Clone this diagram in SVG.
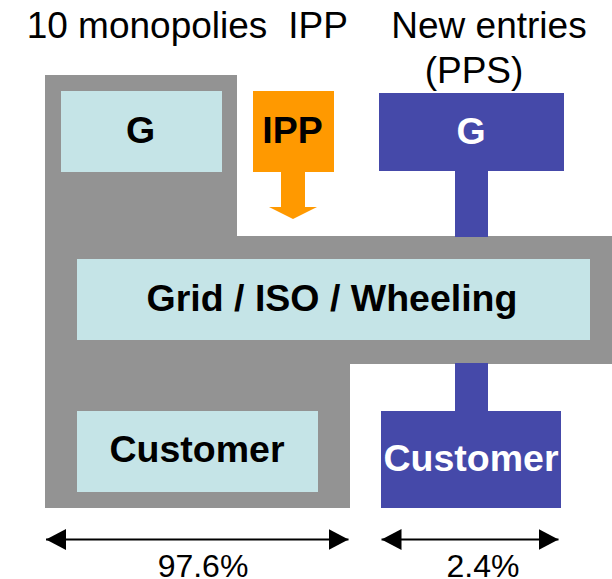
<svg xmlns="http://www.w3.org/2000/svg" width="612" height="579" viewBox="0 0 612 579">
<style>
  .hdr { font-family: "Liberation Sans", Arial, sans-serif; font-size: 37px; fill: #000; text-anchor: middle; }
  .pct { font-family: "Liberation Sans", Arial, sans-serif; font-size: 32px; fill: #000; text-anchor: middle; }
  .lbl { font-family: "Liberation Sans", Arial, sans-serif; font-size: 37.5px; font-weight: bold; text-anchor: middle; }
  .light { fill: #C5E4E7; }
  .blue { fill: #4549A9; }
  .dim { stroke: #000; stroke-width: 2; fill: none; }
</style>
<defs>
  <marker id="ah" viewBox="0 0 20 21" markerWidth="20" markerHeight="21" refX="20" refY="10.5" orient="auto-start-reverse" markerUnits="userSpaceOnUse">
    <path d="M0,0 L20,10.5 L0,21 z" fill="#000"/>
  </marker>
</defs>
<rect width="612" height="579" fill="#fff"/>

<g id="headers">
  <text class="hdr" x="147" y="38">10 monopolies</text>
  <text class="hdr" x="318" y="38">IPP</text>
  <text class="hdr" x="489" y="38">New entries</text>
  <text class="hdr" x="474" y="83">(PPS)</text>
</g>

<g id="monopoly-area">
  <path d="M45,75 H237 V236 H612 V364 H350 V508 H45 Z" fill="#939393"/>
</g>

<g id="connectors">
  <rect class="blue" x="455" y="170" width="33" height="67"/>
  <rect class="blue" x="455" y="363" width="33" height="49"/>
  <path d="M281,171 H305 V207 H317 L293,219 L269,207 H281 Z" fill="#FF9900"/>
  <line class="dim" x1="46" y1="539.5" x2="348.5" y2="539.5" marker-start="url(#ah)" marker-end="url(#ah)"/>
  <line class="dim" x1="381.5" y1="539.5" x2="558.5" y2="539.5" marker-start="url(#ah)" marker-end="url(#ah)"/>
</g>

<g id="g-mono">
  <rect class="light" x="61" y="91" width="161" height="81"/>
  <text class="lbl" x="140.5" y="143" fill="#000">G</text>
</g>

<g id="ipp">
  <rect x="253" y="91" width="81" height="81" fill="#FF9900"/>
  <text class="lbl" x="292.5" y="143" fill="#000">IPP</text>
</g>

<g id="g-pps">
  <rect class="blue" x="379" y="93" width="185" height="78"/>
  <text class="lbl" x="471" y="144" fill="#fff">G</text>
</g>

<g id="grid">
  <rect class="light" x="77" y="259" width="513" height="81"/>
  <text class="lbl" x="332" y="311" fill="#000">Grid / ISO / Wheeling</text>
</g>

<g id="customer-mono">
  <rect class="light" x="77" y="411" width="241" height="81"/>
  <text class="lbl" x="197" y="462" fill="#000">Customer</text>
</g>

<g id="customer-pps">
  <rect class="blue" x="381" y="411" width="180" height="97"/>
  <text class="lbl" x="471" y="471" fill="#fff">Customer</text>
</g>

<g id="shares">
  <text class="pct" x="203" y="577">97.6%</text>
  <text class="pct" x="483" y="577">2.4%</text>
</g>
</svg>
